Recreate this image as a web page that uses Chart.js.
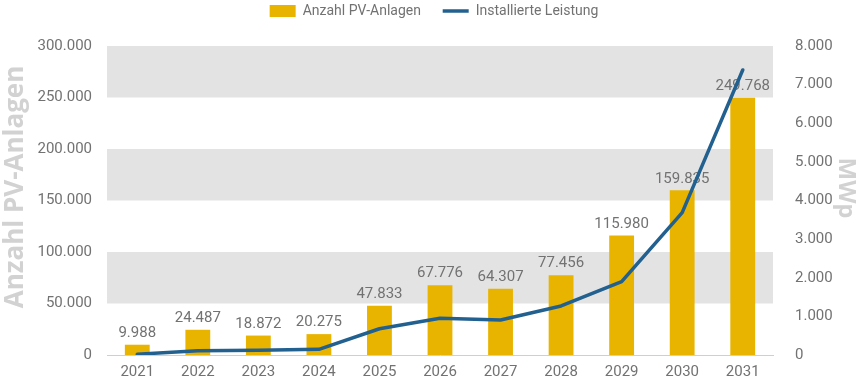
<!DOCTYPE html>
<html>
<head>
<meta charset="utf-8">
<script src="https://cdn.jsdelivr.net/npm/chart.js@4/dist/chart.umd.min.js"></script>
<style>
html,body{margin:0;padding:0;background:#fff;}
#wrap{width:868px;height:381px;position:relative;}
</style>
</head>
<body>
<div id="wrap"><canvas id="c" width="868" height="381"></canvas></div>
<script>
const years = ['2021','2022','2023','2024','2025','2026','2027','2028','2029','2030','2031'];
const anlagen = [9988, 24487, 18872, 20275, 47833, 67776, 64307, 77456, 115980, 159835, 249768];
const leistung = [20, 110, 120, 148, 680, 950, 905, 1270, 1900, 3685, 7380];
const leftTicks = [0, 50000, 100000, 150000, 200000, 250000, 300000];
const rightTicks = [0, 1000, 2000, 3000, 4000, 5000, 6000, 7000, 8000];

function fmt(v){
  const s = Math.round(v).toString();
  return s.replace(/\B(?=(\d{3})+(?!\d))/g, '.');
}

const FONT = 'Roboto, "Open Sans", sans-serif';
const TFONT = '"Open Sans", sans-serif';
const TXT = '#727272';

const legendSpace = {
  id: 'legendSpace',
  beforeInit(chart){
    const lg = chart.legend;
    const orig = lg.fit;
    lg.fit = function(){
      orig.call(this);
      this.height += 18;
    };
  }
};

const bandPlugin = {
  id: 'bands',
  beforeDatasetsDraw(chart){
    const {ctx, chartArea, scales} = chart;
    const y = scales.y;
    ctx.save();
    ctx.fillStyle = '#e3e3e3';
    for (let i = 1; i < leftTicks.length - 1; i += 2) {
      const top = y.getPixelForValue(leftTicks[i+1]);
      const bot = y.getPixelForValue(leftTicks[i]);
      ctx.fillRect(chartArea.left, top, chartArea.right - chartArea.left, bot - top);
    }
    ctx.restore();
  }
};

const labelPlugin = {
  id: 'barLabels',
  afterDatasetDraw(chart, args){
    if (args.index !== 0) return;
    const {ctx} = chart;
    const meta = args.meta;
    ctx.save();
    ctx.font = '15px ' + FONT;
    ctx.fillStyle = TXT;
    ctx.textAlign = 'center';
    ctx.textBaseline = 'bottom';
    meta.data.forEach((el, i) => {
      ctx.fillText(fmt(anlagen[i]), el.x, el.y - 4);
    });
    ctx.restore();
  }
};

new Chart(document.getElementById('c'), {
  data: {
    labels: years,
    datasets: [
      {
        type: 'bar',
        label: 'Anzahl PV-Anlagen',
        data: anlagen,
        backgroundColor: '#e8b400',
        borderWidth: 0,
        yAxisID: 'y',
        order: 1,
        barPercentage: 0.82,
        categoryPercentage: 0.5,
        pointStyle: 'rect'
      },
      {
        type: 'line',
        label: 'Installierte Leistung',
        data: leistung,
        borderColor: '#22608f',
        backgroundColor: '#22608f',
        borderWidth: 3.5,
        borderCapStyle: 'round',
        borderJoinStyle: 'round',
        pointRadius: 0,
        pointHoverRadius: 0,
        tension: 0,
        yAxisID: 'y1',
        order: 0,
        pointStyle: 'line'
      }
    ]
  },
  options: {
    responsive: false,
    animation: false,
    devicePixelRatio: 1,
    layout: { padding: { top: 0, bottom: 0, left: 0, right: 0 } },
    plugins: {
      legend: {
        position: 'top',
        labels: {
          usePointStyle: true,
          pointStyleWidth: 26,
          boxHeight: 12,
          color: TXT,
          font: { family: FONT, size: 14 },
          padding: 4,
          sort: (a, b) => a.datasetIndex - b.datasetIndex,
          generateLabels(chart){
            const items = Chart.defaults.plugins.legend.labels.generateLabels(chart);
            items.forEach(it => { if (it.datasetIndex === 0) it.text = it.text + '\u2003 '; });
            return items;
          }
        }
      },
      tooltip: { enabled: false }
    },
    scales: {
      x: {
        afterFit(axis){ axis.height = 26; },
        grid: { display: false, drawTicks: false },
        border: { display: true, color: '#cfcfcf', width: 1 },
        ticks: { color: TXT, font: { family: FONT, size: 15 }, padding: 8 }
      },
      y: {
        position: 'left',
        min: 0, max: 300000,
        afterBuildTicks(axis){ axis.ticks = leftTicks.map(v => ({value: v})); },
        afterFit(axis){ axis.width = 107; },
        grid: { display: false },
        border: { display: false },
        ticks: { color: TXT, font: { family: FONT, size: 15 }, padding: 7, callback: v => fmt(v) },
        title: { display: true, text: '    Anzahl PV-Anlagen', color: '#d2d2d2', font: { family: TFONT, size: 26, weight: 'bold' }, padding: { top: 0, bottom: 0 } }
      },
      y1: {
        position: 'right',
        min: 0, max: 8000,
        afterBuildTicks(axis){ axis.ticks = rightTicks.map(v => ({value: v})); },
        afterFit(axis){ axis.width = 95; },
        grid: { display: false },
        border: { display: false },
        ticks: { color: TXT, font: { family: FONT, size: 15 }, padding: 14, callback: v => fmt(v) },
        title: { display: true, text: 'MWp    ', color: '#d2d2d2', font: { family: TFONT, size: 24, weight: 'bold' }, padding: { top: 8, bottom: 0 } }
      }
    }
  },
  plugins: [legendSpace, bandPlugin, labelPlugin]
});
</script>
</body>
</html>
